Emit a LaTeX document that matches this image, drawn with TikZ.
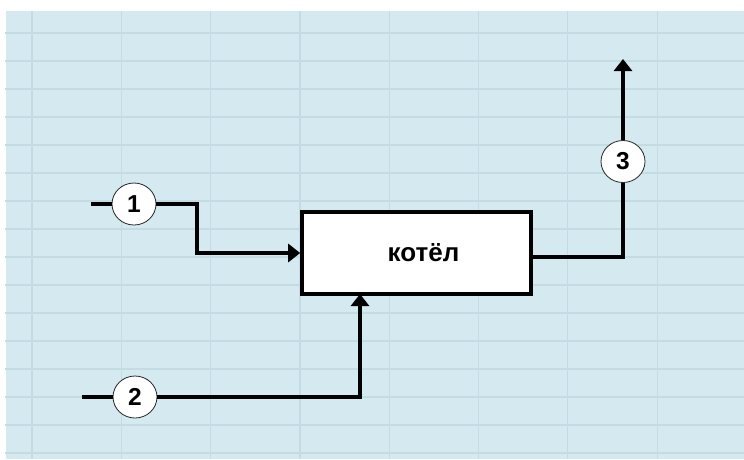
\documentclass[tikz,border=0pt]{standalone}
\usepackage{fontspec}
\setmainfont{Liberation Sans}
\usetikzlibrary{arrows.meta,shapes.geometric}
\definecolor{bgblue}{HTML}{D4EAF0}
\definecolor{gridc}{HTML}{C3DCE3}
\tikzset{
  flow/.style={line width=3.6pt},
  arr/.style={flow,-{Triangle[length=12pt,width=18pt]}},
  num/.style={ellipse,draw=black!85,line width=0.8pt,fill=white,minimum width=44pt,minimum height=42pt,inner sep=0pt,font=\bfseries\fontsize{24.5}{27}\selectfont},
  unit/.style={rectangle,draw,line width=3.6pt,fill=white,minimum width=229pt,minimum height=82pt,inner sep=0pt,font=\bfseries\fontsize{26}{30}\selectfont}
}
\begin{document}
\begin{tikzpicture}[x=1pt,y=-1pt]
\useasboundingbox (0,0) rectangle (744,459);
\fill[white] (0,0) rectangle (744,459);
\fill[bgblue] (6,11) rectangle (744,459);
\foreach \k in {0,...,7} \draw[gridc,line width=1.2pt] ({32+89.3*\k},11) -- ({32+89.3*\k},459);
\foreach \k in {0,...,15} \draw[gridc,line width=1.2pt] (5,{33+28*\k}) -- (744,{33+28*\k});
\node[unit] (box) at (416.5,253) {\hspace*{14pt}котёл};
\node[num] (c1) at (134,204) {1};
\node[num] (c2) at (135,397) {2};
\node[num] (c3) at (623,161.5) {3};
\coordinate (s1) at (91,204);
\coordinate (s2) at (82,397);
\coordinate (k1) at (197,204);
\coordinate (k2) at (360,294);
\coordinate (t3) at (623,59);
\draw[flow] (s1) -- (c1);
\draw[flow] (s2) -- (c2);
\draw[arr] (c1) -- (k1) |- (box);
\draw[arr] (c2) -| (k2);
\draw[flow] ([yshift=-4pt]box.east) -| (c3);
\draw[arr] (c3) -- (t3);
\end{tikzpicture}
\end{document}
